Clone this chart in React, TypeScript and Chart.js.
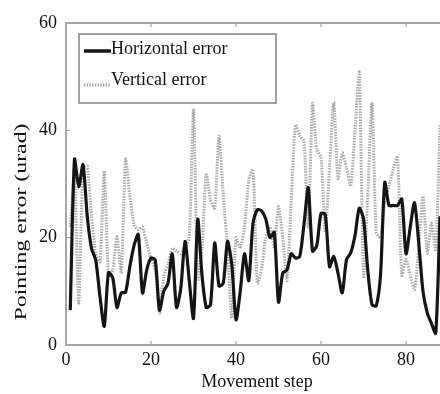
import React, { useEffect, useRef } from "react";
import { Chart, registerables } from "chart.js";

Chart.register(...registerables);

// Movement steps 1..88
const horizontalError = [
  6.5, 34.6, 29.5, 33.6, 24, 18, 15.8, 9, 3.5, 13.5,
  12.5, 7, 9.7, 9.8, 14.5, 18.5, 20.6, 9.7, 14, 16.2,
  15.8, 6.5, 10, 11.5, 17, 7, 10.5, 19.3, 12, 5,
  23.4, 13, 7, 7.5, 19, 11, 11.5, 19.3, 15, 4.7,
  10, 17, 12, 22.7, 25.2, 25, 23.5, 20, 21, 8,
  13.4, 14, 17, 16.2, 16.5, 22.5, 29.3, 17.5, 18.5, 24.5,
  24.3, 14.6, 16.5, 13.4, 9.7, 15.9, 17.2, 20.4, 25.5, 23.5,
  14, 7.5, 7.3, 13, 30.3, 26, 26, 26, 27.2, 17,
  22, 26.5, 19, 10, 6, 4, 2.2, 24,
];

const verticalError = [
  22, 31, 7.8, 33, 33.3, 24, 17, 15.5, 32.4, 12.8,
  14, 20.2, 13.4, 34.6, 28, 22.4, 21.5, 22, 19, 16,
  14, 5.9, 12.8, 15, 18, 17.5, 17, 18, 20, 44,
  12, 18, 32, 27, 25.5, 38.9, 28, 18, 5, 20,
  18, 22, 30.8, 32.7, 11.5, 14, 20, 22, 18, 25.8,
  20, 12, 27, 41, 39, 38, 22, 45, 36.4, 35,
  21, 33, 45.2, 31, 35.8, 33, 29.6, 40, 50.8, 12.5,
  28, 45.2, 21, 20, 26.5, 29.6, 32.7, 35.2, 13, 16,
  13, 10.3, 18, 27.7, 17.1, 22.7, 17.5, 41,
];

const steps = horizontalError.map((_, i) => i + 1);

const xTicks = [0, 20, 40, 60, 80];
const yTicks = [0, 20, 40, 60];

const seriesLabels = ["Horizontal error", "Vertical error"];
const xTitle = "Movement step";
const yTitle = "Pointing error (urad)";

const FONT = "'Liberation Serif', 'DejaVu Serif', serif";
const GRAY = "#ababab";

const decor = {
  id: "decor",
  afterDraw(chart: any) {
    const { ctx, chartArea: a, scales } = chart;
    const x = scales.x;
    const y = scales.y;
    ctx.save();
    // frame
    ctx.strokeStyle = "#a6a6a6";
    ctx.lineWidth = 2;
    ctx.beginPath();
    ctx.moveTo(a.right + 2, a.top);
    ctx.lineTo(a.left, a.top);
    ctx.lineTo(a.left, a.bottom);
    ctx.lineTo(a.right + 2, a.bottom);
    ctx.stroke();
    // inward ticks
    ctx.lineWidth = 1.2;
    ctx.beginPath();
    xTicks.forEach((v) => {
      const px = x.getPixelForValue(v);
      ctx.moveTo(px, a.bottom);
      ctx.lineTo(px, a.bottom - 4);
      ctx.moveTo(px, a.top);
      ctx.lineTo(px, a.top + 4);
    });
    yTicks.forEach((v) => {
      const py = y.getPixelForValue(v);
      ctx.moveTo(a.left, py);
      ctx.lineTo(a.left + 4, py);
    });
    ctx.stroke();

    // legend
    const lx = a.left + 13;
    const ly = a.top + 11;
    ctx.strokeStyle = "#a0a0a0";
    ctx.lineWidth = 2;
    ctx.strokeRect(lx, ly, 197, 69);
    ctx.lineWidth = 3.5;
    ctx.strokeStyle = "#151515";
    ctx.beginPath();
    ctx.moveTo(lx + 5, ly + 17);
    ctx.lineTo(lx + 32, ly + 17);
    ctx.stroke();
    ctx.lineWidth = 3;
    ctx.strokeStyle = GRAY;
    ctx.setLineDash([1.5, 1.2]);
    ctx.beginPath();
    ctx.moveTo(lx + 5, ly + 51);
    ctx.lineTo(lx + 32, ly + 51);
    ctx.stroke();
    ctx.setLineDash([]);
    ctx.fillStyle = "#111";
    ctx.font = `18px ${FONT}`;
    ctx.textAlign = "left";
    ctx.textBaseline = "middle";
    ctx.fillText(seriesLabels[0], lx + 32, ly + 15);
    ctx.fillText(seriesLabels[1], lx + 32, ly + 46);

    // axis titles
    ctx.textAlign = "center";
    ctx.fillText(xTitle, 257, 382);
    ctx.save();
    ctx.translate(22, 222);
    ctx.rotate(-Math.PI / 2);
    ctx.scale(1.4, 1);
    ctx.font = `17px ${FONT}`;
    ctx.fillText(yTitle, 0, 0);
    ctx.restore();
    ctx.restore();
  },
};

export default function App() {
  const ref = useRef<HTMLCanvasElement>(null);
  useEffect(() => {
    document.body.style.margin = "0";
    const canvas = ref.current;
    if (!canvas) return;
    const chart = new Chart(canvas, {
      type: "line",
      data: {
        datasets: [
          {
            label: seriesLabels[0],
            data: steps.map((s, i) => ({ x: s, y: horizontalError[i] })),
            borderColor: "#151515",
            borderWidth: 3.2,
            pointRadius: 0,
            tension: 0.25,
            fill: false,
          },
          {
            label: seriesLabels[1],
            data: steps.map((s, i) => ({ x: s, y: verticalError[i] })),
            borderColor: GRAY,
            borderWidth: 3,
            borderDash: [1.5, 1.2],
            pointRadius: 0,
            tension: 0.2,
            fill: false,
          },
        ],
      },
      options: {
        responsive: false,
        animation: false,
        layout: { padding: { top: 23, right: 0, left: 0, bottom: 0 } },
        plugins: { legend: { display: false }, tooltip: { enabled: false } },
        scales: {
          x: {
            type: "linear",
            min: 0,
            max: 88,
            afterFit: (s: any) => {
              s.height = 49;
            },
            afterBuildTicks: (s: any) => {
              s.ticks = xTicks.map((v) => ({ value: v }));
            },
            grid: { display: false, drawTicks: false },
            border: { display: false },
            ticks: {
              color: "#111",
              font: { family: FONT, size: 18 },
              padding: 4,
              maxRotation: 0,
            },
          },
          y: {
            min: 0,
            max: 60,
            afterFit: (s: any) => {
              s.width = 66;
            },
            afterBuildTicks: (s: any) => {
              s.ticks = yTicks.map((v) => ({ value: v }));
            },
            grid: { display: false, drawTicks: false },
            border: { display: false },
            ticks: {
              color: "#111",
              font: { family: FONT, size: 18 },
              padding: 9,
            },
          },
        },
      },
      plugins: [decor],
    });
    return () => chart.destroy();
  }, []);
  return (
    <div style={{ width: 440, height: 394 }}>
      <canvas ref={ref} width={440} height={394} style={{ display: "block" }} />
    </div>
  );
}
